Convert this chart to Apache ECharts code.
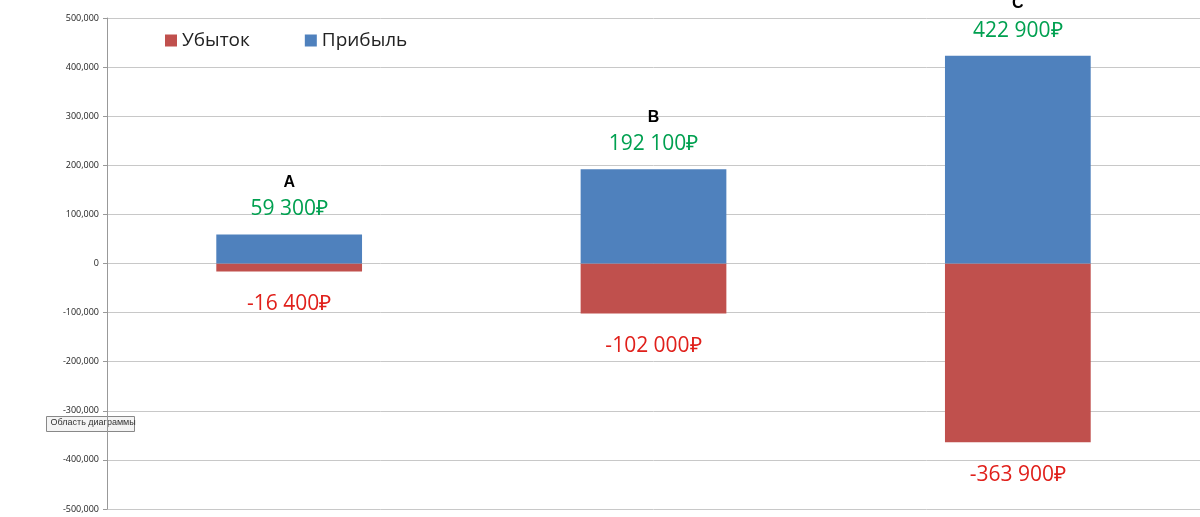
<!DOCTYPE html>
<html><head><meta charset="utf-8">
<script src="https://cdn.jsdelivr.net/npm/echarts@6/dist/echarts.min.js"></script>
<style>html,body{margin:0;background:#fff}#c{width:1200px;height:517px}</style>
</head><body><div id="c"></div>
<script>
const categories = ['A', 'B', 'C'];
const loss = [-16400, -102000, -363900];
const profit = [59300, 192100, 422900];

function rub(v) {
	const s = String(Math.abs(v)).replace(/\B(?=(\d{3})+(?!\d))/g, ' ');
	return (v < 0 ? '-' : '') + s + '₽';
}

const chart = echarts.init(document.getElementById('c'));
chart.setOption({
	animation: false,
	textStyle: { fontFamily: 'Open Sans, sans-serif' },
	legend: {
		left: 160, top: 26, itemWidth: 12, itemHeight: 12, itemGap: 55,
		icon: 'rect',
		textStyle: { fontSize: 19, color: '#222' },
		data: ['Убыток', 'Прибыль']
	},
	grid: { left: 107, right: 0, top: 18, bottom: 8 },
	xAxis: {
		type: 'category',
		data: categories,
		axisLine: { show: false },
		axisTick: { show: false },
		axisLabel: { show: false }
	},
	yAxis: {
		type: 'value', min: -500000, max: 500000, interval: 100000,
		axisLine: { show: true, lineStyle: { color: '#999' } },
		axisTick: { show: true, length: 4, lineStyle: { color: '#999' } },
		axisLabel: { fontSize: 9, color: '#222', margin: 8 },
		splitLine: { lineStyle: { color: '#c8c8c8' } }
	},
	series: [
		{
			name: 'Убыток', type: 'bar', stack: 't', barWidth: '40%',
			itemStyle: { color: '#C0504D' },
			data: loss,
			label: {
				show: true, position: 'bottom', distance: 22,
				formatter: p => rub(p.value),
				fontSize: 21, color: '#E0201B'
			}
		},
		{
			name: 'Прибыль', type: 'bar', stack: 't', barWidth: '40%',
			itemStyle: { color: '#4F81BD' },
			data: profit,
			label: {
				show: true, position: 'top', distance: 12,
				formatter: p => '{n|' + p.name + '}\n{v|' + rub(p.value) + '}',
				rich: {
					n: { fontSize: 16, fontWeight: 'bold', color: '#000', fontFamily: 'Arial', lineHeight: 28 },
					v: { fontSize: 21, color: '#00A050', lineHeight: 26 }
				}
			}
		}
	],
	graphic: [{
		type: 'group', left: 46, top: 416,
		children: [
			{ type: 'rect', shape: { x: 0, y: 0, width: 88, height: 15 }, style: { fill: '#f4f4f4', stroke: '#888' } },
			{ type: 'text', x: 4, y: 2, style: { text: 'Область диаграммы', fontSize: 9, fill: '#333' } }
		]
	}]
});
</script></body></html>
